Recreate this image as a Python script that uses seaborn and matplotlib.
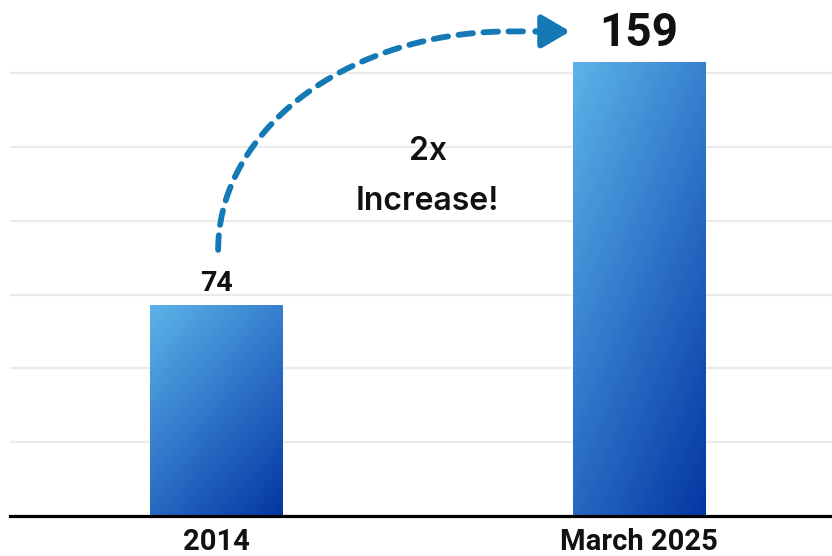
import numpy as np
import pandas as pd
import seaborn as sns
import matplotlib.pyplot as plt
from matplotlib.colors import LinearSegmentedColormap

# data
periods = ["2014", "March 2025"]
counts = [74, 159]
note_top = "2x"
note_bottom = "Increase!"

df = pd.DataFrame({"period": periods, "count": counts})

sns.set_theme(style="white")
plt.rcParams["font.family"] = ["Roboto", "DejaVu Sans"]

fig = plt.figure(figsize=(8.32, 5.56), dpi=100)
ax = fig.add_axes([10 / 832, 1 - 516 / 556, 822 / 832, 516 / 556])

sns.barplot(data=df, x="period", y="count", width=0.314, color="#3a86d0",
            ax=ax, zorder=2)

# diagonal gradient on each bar, light top-left -> dark bottom-right
cmap = LinearSegmentedColormap.from_list("blues", ["#5db4e8", "#2f74c9", "#0436a3"])
u, v = np.meshgrid(np.linspace(0, 1, 100), np.linspace(0, 1, 300))
grad = (0.8 * u + 1.2 * v) / 2
for p in ax.patches:
    x0, y0 = p.get_x(), p.get_y()
    x1, y1 = x0 + p.get_width(), y0 + p.get_height()
    im = ax.imshow(grad, cmap=cmap, extent=[x0, x1, y0, y1], origin="upper",
                   aspect="auto", zorder=3)
    im.set_clip_path(p)
    p.set_edgecolor("none")

ax.set_xlim(-0.487, 1.456)
ax.set_ylim(0, 180.7)

# grid lines and axis
ax.set_yticks(np.linspace(0, 155, 7))
ax.yaxis.grid(True, color="#ebebeb", lw=1.6, zorder=0)
ax.set_yticklabels([])
ax.tick_params(axis="y", length=0)
ax.tick_params(axis="x", length=0, pad=8.5)
for lab in ax.get_xticklabels():
    lab.set_fontsize(21)
    lab.set_fontweight("bold")
    lab.set_color("#111111")
ax.set_xlabel("")
ax.set_ylabel("")
for s in ["top", "right", "left"]:
    ax.spines[s].set_visible(False)
ax.spines["bottom"].set_color("black")
ax.spines["bottom"].set_linewidth(2.3)
ax.spines["bottom"].set_zorder(5)

# value labels
ax.text(0, counts[0] + 2.6, str(counts[0]), ha="center", va="bottom",
        fontsize=20.5, fontweight="bold", color="#111111")
ax.text(1, counts[1] + 2.3, str(counts[1]), ha="center", va="bottom",
        fontsize=33, fontweight="bold", color="#111111")

# note in the middle
ax.text(0.5, 127.5, note_top, ha="center", va="center", fontsize=23,
        fontweight="semibold", family=["Inter", "DejaVu Sans"], color="#111111")
ax.text(0.5, 110, note_bottom, ha="center", va="center", fontsize=23,
        fontweight="semibold", family=["Inter", "DejaVu Sans"], color="#111111")

# dashed curved arrow from first bar to the second value
arrow_col = "#1479b5"
cx, cy, rx, ry = 0.695, 93.2, 0.69, 76.5
t = np.linspace(np.pi, np.pi / 2, 200)
xs = np.append(cx + rx * np.cos(t), 0.73)
ys = np.append(cy + ry * np.sin(t), cy + ry)
ax.plot(xs, ys, color=arrow_col, lw=4.2, dashes=(2.5, 1.8),
        solid_capstyle="round", dash_capstyle="round", zorder=4)
ax.annotate("", xy=(0.837, cy + ry), xytext=(0.755, cy + ry),
            arrowprops=dict(arrowstyle="-|>,head_length=0.85,head_width=0.5",
                            mutation_scale=20, color=arrow_col, lw=4.5,
                            shrinkA=0, shrinkB=0, joinstyle="round"),
            zorder=4)

fig.savefig("out.png", dpi=100)
